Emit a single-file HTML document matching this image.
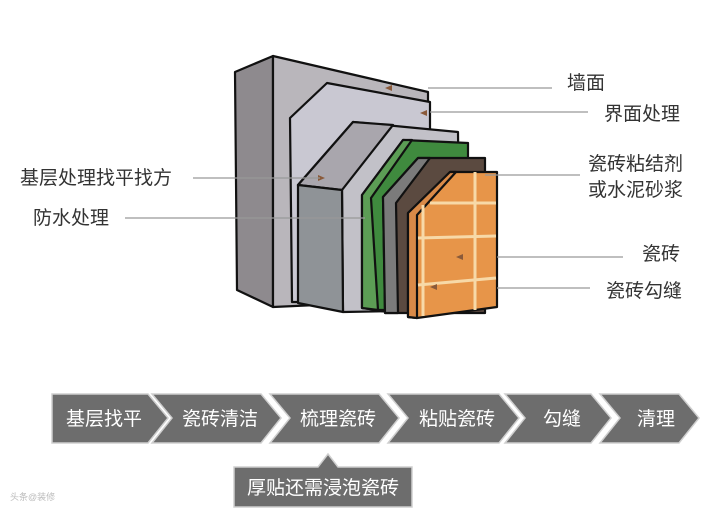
<!DOCTYPE html>
<html><head><meta charset="utf-8"><style>
html,body{margin:0;padding:0;background:#fff;}
body{width:720px;height:519px;overflow:hidden;position:relative;font-family:"Liberation Sans","Noto Sans CJK SC",sans-serif;}
svg{position:absolute;left:0;top:0;}
</style></head><body>
<svg width="720" height="519" viewBox="0 0 720 519" xmlns="http://www.w3.org/2000/svg" font-family="Liberation Sans, Noto Sans CJK SC, sans-serif">
<g stroke="#111" stroke-width="2.2" stroke-linejoin="round">
<!-- back wall -->
<polygon points="235,72 273,56 273,307 237,290" fill="#8e8a8e"/>
<polygon points="273,56 428,92 428,300 273,307" fill="#b9b6bb"/>
<!-- interface layer -->
<polygon points="290,118 327,83 430,102 430,302 292,302" fill="#c9c8d2"/>
<!-- base layer -->
<polygon points="298,185 353,122 458,132 460,310 343,312 342,190" fill="#c2c1c8"/>
<polygon points="298,185 353,122 393,125 342,190" fill="#a9a6ad"/>
<polygon points="298,185 342,190 343,312 298,303" fill="#8f9397"/>
<!-- green -->
<polygon points="362,195 403,140 468,143 468,310 378,310 362,308" fill="#3f8a3e"/>
<polygon points="362,195 403,140 412,140 371,198 378,310 362,308" fill="#5c9d55"/>
<!-- dark layer -->
<polygon points="383,197 418,158 485,158 485,313 385,313" fill="#5b4a40"/>
<polygon points="383,197 418,158 430,158 396,203 398,313 385,313" fill="#7b7b7b"/>
<!-- tile -->
<polygon points="408,213 450,172 497,172 497,307 417,318 408,317" fill="#e79549"/>
<polygon points="408,213 450,172 456,172 417,215 417,318 408,317" fill="#d98a48"/>
</g>
<g stroke="#f7d9a8" stroke-width="3" fill="none">
<line x1="423" y1="205" x2="423" y2="316"/>
<line x1="475" y1="172" x2="475" y2="310"/>
<line x1="430" y1="203" x2="496" y2="203"/>
<line x1="418" y1="238" x2="496" y2="236"/>
<line x1="418" y1="285" x2="496" y2="278"/>
</g>
<g fill="#8a5a3a">
<polygon points="385,88 392,85 392,91"/>
<polygon points="420,113 427,110 427,116"/>
<polygon points="325,178 318,175 318,181"/>
<polygon points="456,257 463,254 463,260"/>
<polygon points="430,287 437,284 437,290"/>
</g>
<!-- connector lines -->
<g stroke="#999" stroke-width="1.3">
<line x1="428" y1="88" x2="552" y2="88"/>
<line x1="430" y1="112" x2="588" y2="112"/>
<line x1="485" y1="175" x2="580" y2="175"/>
<line x1="497" y1="257" x2="623" y2="257"/>
<line x1="497" y1="288" x2="590" y2="288"/>
<line x1="193" y1="178" x2="320" y2="178"/>
<line x1="125" y1="218" x2="365" y2="218"/>
</g>
<g fill="#333" font-size="19">
<text x="567" y="89">墙面</text>
<text x="604" y="120">界面处理</text>
<text x="588" y="170">瓷砖粘结剂</text>
<text x="588" y="196">或水泥砂浆</text>
<text x="642" y="260">瓷砖</text>
<text x="606" y="297">瓷砖勾缝</text>
<text x="20" y="184">基层处理找平找方</text>
<text x="33" y="224">防水处理</text>
</g>
<!-- chevrons -->
<g fill="#6d6d6d" stroke="#cfcfcf" stroke-width="1.5">
<polygon points="52,394 148,394 168,418 148,443 52,443"/>
<polygon points="152,394 261,394 281,418 261,443 152,443 172,418"/>
<polygon points="270,394 379,394 399,418 379,443 270,443 290,418"/>
<polygon points="388,394 499,394 519,418 499,443 388,443 408,418"/>
<polygon points="505,394 591,394 611,418 591,443 505,443 525,418"/>
<polygon points="600,394 679,394 699,418 679,443 600,443 620,418"/>
<polygon points="234,467 318,467 328,454 338,467 412,467 412,507 234,507"/>
</g>
<g fill="#fff" font-size="19" text-anchor="middle">
<text x="104" y="425">基层找平</text>
<text x="220" y="425">瓷砖清洁</text>
<text x="338" y="425">梳理瓷砖</text>
<text x="457" y="425">粘贴瓷砖</text>
<text x="562" y="425">勾缝</text>
<text x="656" y="425">清理</text>
<text x="323" y="494">厚贴还需浸泡瓷砖</text>
</g>
<text x="10" y="500" font-size="9" fill="#bbb">头条@装修</text>
</svg>
</body></html>
